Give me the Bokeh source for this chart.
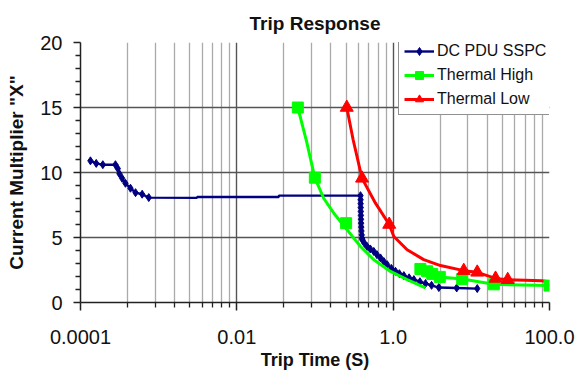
import math
from bokeh.plotting import figure
from bokeh.models import FixedTicker, Legend, LegendItem, CustomJSTickFormatter
from bokeh.embed import file_html
from bokeh.resources import INLINE

# ---------------- data ----------------
title_text = "Trip Response"
x_label = "Trip Time (S)"
y_label = 'Current Multiplier "X"'

x_major = [1e-4, 1e-2, 1.0, 100.0]
x_labels = ["0.0001", "0.01", "1.0", "100.0"]
y_major = [0, 5, 10, 15, 20]

# DC PDU SSPC (blue)
blue_t = [1.34e-4, 1.59e-4, 1.93e-4, 2.8e-4, 3.0e-4, 3.15e-4, 3.41e-4, 3.76e-4, 4.36e-4,
          5.06e-4, 6.15e-4, 7.47e-4, 3.1e-3, 3.1e-3, 3.44e-2, 3.44e-2,
          0.382, 0.383, 0.384, 0.385, 0.386, 0.387, 0.388, 0.389, 0.391, 0.393, 0.396, 0.400,
          0.402, 0.43, 0.464, 0.51, 0.565, 0.62, 0.689, 0.76, 0.838, 0.95, 1.07, 1.2, 1.37,
          1.6, 1.84, 2.2, 2.59, 3.1, 3.84, 6.5, 11.9]
blue_y = [10.9, 10.7, 10.6, 10.6, 10.3, 9.9, 9.55, 9.17, 8.79,
          8.45, 8.33, 8.07, 8.05, 8.12, 8.12, 8.22,
          8.22, 7.9, 7.6, 7.3, 7.0, 6.7, 6.4, 6.1, 5.8, 5.5, 5.2, 4.95,
          4.83, 4.55, 4.31, 4.12, 3.93, 3.68, 3.43, 3.15, 2.91, 2.62, 2.40, 2.22, 2.07,
          1.9, 1.76, 1.6, 1.46, 1.32, 1.15, 1.12, 1.07]
blue_has_marker = [True] * 12 + [False] * 4 + [True] * 33

# Thermal High (green)
green_line_t = [0.0603, 0.078, 0.0995, 0.129, 0.174, 0.258, 0.382, 0.565, 0.925, 1.51, 2.59,
                float("nan"), 2.23, 2.72, 3.16, 3.95, 7.64, 19.4, 100.0]
green_line_y = [15.0, 12.4, 9.6, 8.02, 6.87, 5.59, 4.31, 3.29, 2.39, 1.76, 1.13,
                float("nan"), 2.58, 2.40, 2.2, 1.97, 1.8, 1.4, 1.3]
green_mark_t = [0.0603, 0.0995, 0.25, 2.23, 2.72, 3.16, 3.95, 7.64, 19.4, 100.0]
green_mark_y = [15.0, 9.6, 6.1, 2.58, 2.40, 2.2, 1.97, 1.8, 1.4, 1.3]

# Thermal Low (red)
red_line_t = [0.255, 0.308, 0.40, 0.594, 0.89, 1.02, 1.51, 2.46, 4.03, 8.0, 11.9, 20.4, 29.2, 80.0, 97.0]
red_line_y = [15.0, 12.5, 9.55, 7.64, 6.0, 5.08, 4.06, 3.30, 2.84, 2.45, 2.32, 1.85, 1.75, 1.68, 1.6]
red_mark_t = [0.255, 0.40, 0.89, 8.0, 11.9, 20.4, 29.2]
red_mark_y = [15.0, 9.55, 6.0, 2.45, 2.32, 1.85, 1.75]

# ---------------- derived ----------------
x_minor = [b * k * k for b in (1e-4, 1e-2, 1.0) for k in range(2, 10)]
y_minor = [v for v in range(1, 20) if v % 5 != 0]
blue_mt = [t for t, m in zip(blue_t, blue_has_marker) if m]
blue_my = [y for y, m in zip(blue_y, blue_has_marker) if m]

FONT = "Liberation Sans"
BLUE = "#000080"
GREEN = "#00ff00"
RED = "#ff0000"

p = figure(width=579, height=372, x_axis_type="log", x_range=(1e-4, 100), y_range=(0, 20),
           output_backend="svg", toolbar_location=None,
           min_border_left=80, min_border_right=30, min_border_top=42, min_border_bottom=69)
p.outline_line_color = None
p.background_fill_color = "white"

p.title.text = title_text
p.title.align = "center"
p.title.text_font = FONT
p.title.text_font_size = "19px"
p.title.text_font_style = "bold"
p.title.text_color = "#111111"
p.title.standoff = 17

# x axis
xa = p.xaxis[0]
xa.ticker = FixedTicker(ticks=x_major, minor_ticks=x_minor)
xa.formatter = CustomJSTickFormatter(args=dict(mvals=x_major, mlabs=x_labels), code="""
for (let i = 0; i < mvals.length; i++) {
  if (Math.abs(Math.log10(tick) - Math.log10(mvals[i])) < 1e-6) return mlabs[i];
}
return "";
""")
xa.axis_label = x_label
xa.axis_label_text_font = FONT
xa.axis_label_text_font_size = "18px"
xa.axis_label_text_font_style = "bold"
xa.axis_label_text_color = "#111111"
xa.axis_label_standoff = 3
xa.major_label_text_font = FONT
xa.major_label_text_font_size = "20px"
xa.major_label_text_color = "#111111"
xa.major_label_standoff = 19
xa.axis_line_color = "#222222"
xa.axis_line_width = 1.5
xa.major_tick_line_color = "#222222"
xa.major_tick_line_width = 1.5
xa.minor_tick_line_color = "#222222"
xa.minor_tick_line_width = 1.3
xa.major_tick_in = 0
xa.major_tick_out = 8
xa.minor_tick_in = 0
xa.minor_tick_out = 5

# y axis
ya = p.yaxis[0]
ya.ticker = FixedTicker(ticks=y_major, minor_ticks=y_minor)
ya.axis_label = y_label
ya.axis_label_text_font = FONT
ya.axis_label_text_font_size = "19px"
ya.axis_label_text_font_style = "bold"
ya.axis_label_text_color = "#111111"
ya.axis_label_standoff = 10
ya.major_label_text_font = FONT
ya.major_label_text_font_size = "20px"
ya.major_label_text_color = "#111111"
ya.major_label_standoff = 11
ya.axis_line_color = "#222222"
ya.axis_line_width = 1.5
ya.major_tick_line_color = "#222222"
ya.major_tick_line_width = 1.5
ya.minor_tick_line_color = "#222222"
ya.minor_tick_line_width = 1.3
ya.major_tick_in = 0
ya.major_tick_out = 7
ya.minor_tick_in = 0
ya.minor_tick_out = 5

# grids
xg = p.xgrid[0]
xg.ticker = FixedTicker(ticks=x_major, minor_ticks=x_minor)
xg.grid_line_color = "#555555"
xg.grid_line_width = 1.4
xg.minor_grid_line_color = "#aaaaaa"
xg.minor_grid_line_width = 1.3
yg = p.ygrid[0]
yg.ticker = FixedTicker(ticks=[5, 10, 15])
yg.grid_line_color = "#555555"
yg.grid_line_width = 1.4

# series
bl = p.line(blue_t, blue_y, line_color=BLUE, line_width=2.4)
bm = p.scatter(blue_mt, blue_my, marker="diamond", size=8, fill_color=BLUE, line_color=BLUE)
gl = p.line(green_line_t, green_line_y, line_color=GREEN, line_width=3.0)
rl = p.line(red_line_t, red_line_y, line_color=RED, line_width=3.0)
gm = p.scatter(green_mark_t, green_mark_y, marker="square", size=11, fill_color=GREEN, line_color=GREEN)
rm = p.scatter(red_mark_t, red_mark_y, marker="triangle", size=13, fill_color=RED, line_color=RED)

legend = Legend(items=[
    LegendItem(label="DC PDU SSPC", renderers=[bl, bm]),
    LegendItem(label="Thermal High", renderers=[gl, gm]),
    LegendItem(label="Thermal Low", renderers=[rl, rm]),
], location=(318, 187))
legend.border_line_color = "#222222"
legend.border_line_width = 1.2
legend.background_fill_color = "white"
legend.background_fill_alpha = 1.0
legend.label_text_font = FONT
legend.label_text_font_size = "16px"
legend.label_text_color = "#111111"
legend.glyph_width = 30
legend.glyph_height = 20
legend.label_height = 20
legend.label_width = 112
legend.label_standoff = 3
legend.spacing = 4
legend.padding = 5
legend.margin = 0
p.add_layout(legend)

open("out.html", "w").write(file_html(p, INLINE))
